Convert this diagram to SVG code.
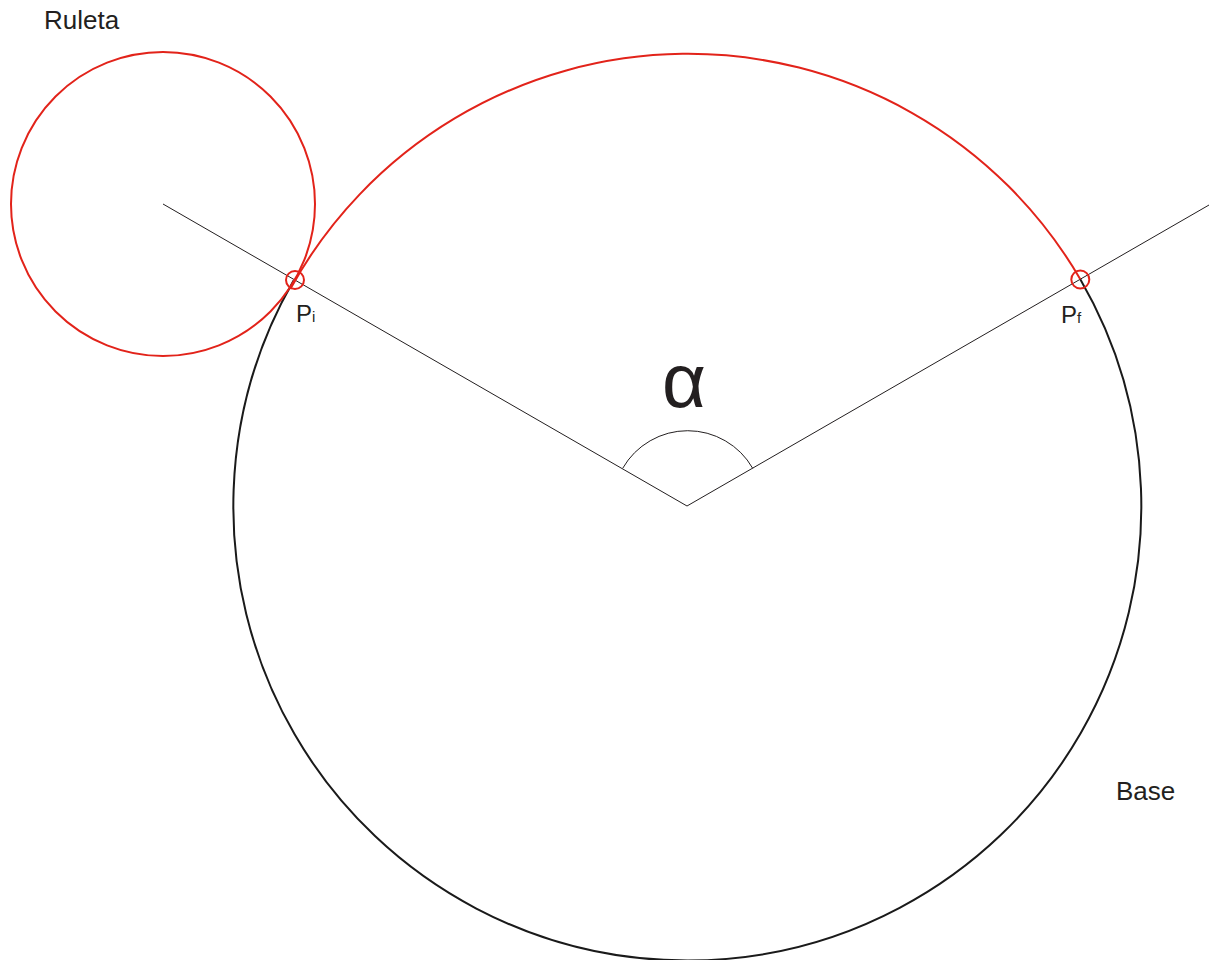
<svg xmlns="http://www.w3.org/2000/svg" width="1209" height="960" viewBox="0 0 1209 960">
<style>
.t{font-family:"Liberation Sans",Arial,sans-serif;fill:#231f20}
.thin{fill:none;stroke:#231f20;stroke-width:1}
.red{fill:none;stroke:#e2231a;stroke-width:2}
.blk{fill:none;stroke:#1a1a1a;stroke-width:2}
</style>
<rect width="1209" height="960" fill="#fff"/>
<g id="connectors">
<line class="thin" x1="163" y1="204" x2="687" y2="506"/>
<line class="thin" x1="687" y1="506" x2="1209" y2="205"/>
<path class="thin" d="M622.7 468.3 A75 75 0 0 1 752.7 468.3"/>
</g>
<g id="base">
<path class="blk" d="M1080.3 279.2 A454 454 0 1 1 293.6 280.5"/>
<path class="red" d="M290.3 289 A454 454 0 0 1 1080.3 279.2"/>
</g>
<g id="ruleta">
<circle class="red" cx="163" cy="204" r="152"/>
</g>
<g id="pi">
<circle class="red" cx="295" cy="280" r="9"/>
<text class="t" x="296" y="322" font-size="24">P<tspan font-size="15">i</tspan></text>
</g>
<g id="pf">
<circle class="red" cx="1080.3" cy="279.5" r="9"/>
<text class="t" x="1061" y="323" font-size="24">P<tspan font-size="15">f</tspan></text>
</g>
<g id="labels">
<text class="t" x="44" y="29" font-size="26">Ruleta</text>
<text class="t" x="1116" y="800" font-size="26">Base</text>
<text class="t" x="662" y="407" font-size="76">α</text>
</g>
</svg>
